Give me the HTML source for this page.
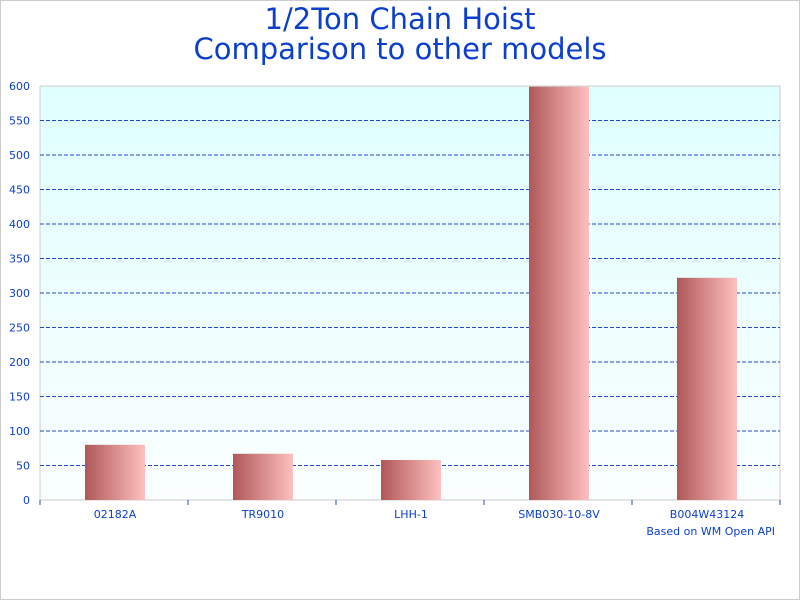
<!DOCTYPE html>
<html><head><meta charset="utf-8"><style>
body{margin:0;background:#fff}
svg{display:block;font-family:"DejaVu Sans","Liberation Sans",sans-serif}
</style></head><body>
<svg id="c" width="800" height="600">
<defs>
<linearGradient id="bg" x1="0" y1="0" x2="0" y2="1"><stop offset="0" stop-color="#dfffff"/><stop offset="1" stop-color="#fafefe"/></linearGradient>
<linearGradient id="bar" x1="0" y1="0" x2="1" y2="0"><stop offset="0" stop-color="#b05858"/><stop offset="1" stop-color="#ffc0c0"/></linearGradient>
</defs>
<rect x="0.5" y="0.5" width="799" height="599" fill="#fff" stroke="#ccc"/>
<text x="400" y="29" text-anchor="middle" font-size="29" fill="#0b3fcc">1/2Ton Chain Hoist</text>
<text x="400" y="59" text-anchor="middle" font-size="29" fill="#0b3fcc">Comparison to other models</text>
<rect x="40" y="86" width="740" height="414" fill="url(#bg)" stroke="#ccc"/>
<g id="g"></g>
<text x="775" y="535" text-anchor="end" font-size="11" fill="#0b3fcc">Based on WM Open API</text>
</svg>
<script>
const categories=["02182A","TR9010","LHH-1","SMB030-10-8V","B004W43124"];
const values=[80,67,58,599,322];
const ticks=[0,50,100,150,200,250,300,350,400,450,500,550,600];
const X0=40,X1=780,Y0=500,Y1=86,MAX=600;
const y=v=>Y0-(v/MAX)*(Y0-Y1);
const bw=(X1-X0)/categories.length;
const x=i=>X0+bw*i;
const g=document.getElementById('g');
const NS="http://www.w3.org/2000/svg";
function mk(t,a){const e=document.createElementNS(NS,t);for(const k in a)e.setAttribute(k,a[k]);g.appendChild(e);return e;}
ticks.forEach(t=>{
 if(t>0&&t<MAX){const l=mk('line',{x1:X0,x2:X1,y1:y(t),y2:y(t),stroke:'#2447c8','stroke-dasharray':'4,2','stroke-width':1});
 
 }
 const tx=mk('text',{x:30,y:y(t)+4,'text-anchor':'end','font-size':11,fill:'#0b3fcc'});tx.textContent=t;
 
 
});
const ax=mk('line',{x1:X0,x2:X1,y1:Y0,y2:Y0,stroke:'#ccc'});


for(let i=0;i<=categories.length;i++){const tk=mk('line',{x1:x(i),x2:x(i),y1:Y0,y2:Y0+5,stroke:'#2447c8'});
 
 }
categories.forEach((c,i)=>{
 const cx=x(i)+bw/2+1;
 const r=mk('rect',{x:cx-30,y:y(values[i]),width:60,height:Y0-y(values[i]),fill:'url(#bar)'});
 
 
 const t=mk('text',{x:cx,y:518,'text-anchor':'middle','font-size':11,fill:'#0b3fcc'});t.textContent=c;
 
 
});
</script>
</body></html>
